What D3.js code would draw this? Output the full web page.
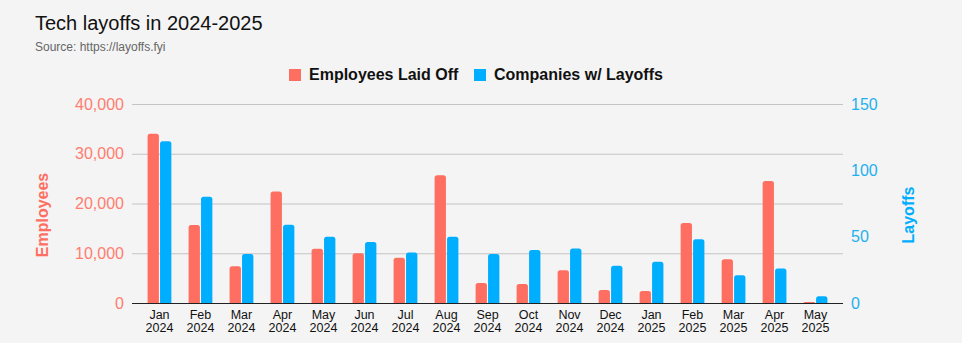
<!DOCTYPE html>
<html>
<head>
<meta charset="utf-8">
<script src="https://cdn.jsdelivr.net/npm/d3@7"></script>
<style>
	body { margin: 0; background: #f4f4f4; }
	svg { font-family: "Liberation Sans", Arial, sans-serif; display: block; }
</style>
</head>
<body>
<div id="viz-holder"></div>
<script>
// data
let months = ["Jan", "Feb", "Mar", "Apr", "May", "Jun", "Jul", "Aug", "Sep", "Oct", "Nov", "Dec",
	"Jan", "Feb", "Mar", "Apr", "May"];
let years = ["2024", "2024", "2024", "2024", "2024", "2024", "2024", "2024", "2024", "2024", "2024", "2024",
	"2025", "2025", "2025", "2025", "2025"];
let employees = [34000, 15700, 7400, 22400, 10900, 10000, 9100, 25700, 4000, 3800, 6600, 2600,
	2400, 16100, 8800, 24500, 200];
let companies = [122, 80, 37, 59, 50, 46, 38, 50, 37, 40, 41, 28, 31, 48, 21, 26, 5];
let leftTicks = [0, 10000, 20000, 30000, 40000];
let rightTicks = [0, 50, 100, 150];

let red = "#ff6f61";
let blue = "#00aeff";

let width = 962, height = 343;
let margin = {top: 104, right: 119, bottom: 40, left: 132};

let svg = d3.select('#viz-holder')
	.append('svg')
	.attr('width', width)
	.attr('height', height);

svg.append('rect').attr('width', width).attr('height', height).attr('fill', '#f4f4f4');

let x = d3.scaleBand()
	.domain(d3.range(months.length))
	.range([margin.left, width - margin.right])
	.paddingInner(0.42)
	.paddingOuter(0.38);

let sub = d3.scaleBand()
	.domain(["e", "c"])
	.range([0, x.bandwidth()])
	.paddingInner(0.09);

let yLeft = d3.scaleLinear().domain([0, 40000]).range([height - 40, margin.top]);
let yRight = d3.scaleLinear().domain([0, 150]).range([height - 40, margin.top]);

// gridlines
svg.append('g')
	.selectAll('line')
	.data(leftTicks.slice(1))
	.enter().append('line')
	.attr('x1', margin.left).attr('x2', width - margin.right)
	.attr('y1', d => yLeft(d) + 0.5).attr('y2', d => yLeft(d) + 0.5)
	.attr('stroke', '#c4c4c4');

// rounded-top bar path
function barPath(x0, w, yTop, yBase) {
	let r = Math.min(2.5, (yBase - yTop) / 2, w / 2);
	return `M${x0},${yBase}V${yTop + r}Q${x0},${yTop} ${x0 + r},${yTop}H${x0 + w - r}Q${x0 + w},${yTop} ${x0 + w},${yTop + r}V${yBase}Z`;
}

let base = yLeft(0);

svg.append('g')
	.selectAll('path')
	.data(employees)
	.enter().append('path')
	.attr('fill', red)
	.attr('d', (d, i) => barPath(x(i) + sub("e"), sub.bandwidth(), yLeft(d), base));

svg.append('g')
	.selectAll('path')
	.data(companies)
	.enter().append('path')
	.attr('fill', blue)
	.attr('d', (d, i) => barPath(x(i) + sub("c"), sub.bandwidth(), yRight(d), base));

// baseline
svg.append('line')
	.attr('x1', margin.left).attr('x2', width - margin.right)
	.attr('y1', base + 0.5).attr('y2', base + 0.5)
	.attr('stroke', '#222');

// left axis
let leftAxis = d3.axisLeft(yLeft)
	.tickValues(leftTicks)
	.tickFormat(d3.format(","))
	.tickSize(0)
	.tickPadding(8);

svg.append('g')
	.attr('transform', `translate(${margin.left},0)`)
	.call(leftAxis)
	.call(g => g.select('.domain').remove())
	.selectAll('text')
	.attr('font-size', 16)
	.attr('fill', '#ff7d70');

// right axis
let rightAxis = d3.axisRight(yRight)
	.tickValues(rightTicks)
	.tickSize(0)
	.tickPadding(8);

svg.append('g')
	.attr('transform', `translate(${width - margin.right},0)`)
	.call(rightAxis)
	.call(g => g.select('.domain').remove())
	.selectAll('text')
	.attr('font-size', 16)
	.attr('fill', '#1eb0ee');

// x axis labels
let xLabels = svg.append('g')
	.selectAll('text')
	.data(months)
	.enter().append('text')
	.attr('x', (d, i) => x(i) + x.bandwidth() / 2)
	.attr('y', base + 16)
	.attr('text-anchor', 'middle')
	.attr('font-size', 12.5)
	.attr('fill', '#111');

xLabels.append('tspan').text(d => d);
xLabels.append('tspan')
	.attr('x', (d, i) => x(i) + x.bandwidth() / 2)
	.attr('dy', 12.5)
	.text((d, i) => years[i]);

// axis titles
svg.append('text')
	.attr('transform', 'translate(48,215) rotate(-90)')
	.attr('text-anchor', 'middle')
	.attr('font-size', 16)
	.attr('font-weight', 'bold')
	.attr('fill', red)
	.text('Employees');

svg.append('text')
	.attr('transform', 'translate(914,215) rotate(-90)')
	.attr('text-anchor', 'middle')
	.attr('font-size', 16)
	.attr('font-weight', 'bold')
	.attr('fill', blue)
	.text('Layoffs');

// title
svg.append('text')
	.attr('x', 35).attr('y', 30)
	.attr('font-size', 20)
	.attr('fill', '#111')
	.text('Tech layoffs in 2024-2025');

svg.append('text')
	.attr('x', 35).attr('y', 51)
	.attr('font-size', 12)
	.attr('fill', '#666')
	.text('Source: https://layoffs.fyi');

// legend
let legend = svg.append('g');
let items = [
	{label: 'Employees Laid Off', color: red, x: 289},
	{label: 'Companies w/ Layoffs', color: blue, x: 474}
];
items.forEach(it => {
	legend.append('rect')
		.attr('x', it.x).attr('y', 69)
		.attr('width', 12).attr('height', 12)
		.attr('fill', it.color);
	legend.append('text')
		.attr('x', it.x + 20).attr('y', 80)
		.attr('font-size', 16)
		.attr('font-weight', 'bold')
		.attr('fill', '#111')
		.text(it.label);
});
</script>
</body>
</html>
